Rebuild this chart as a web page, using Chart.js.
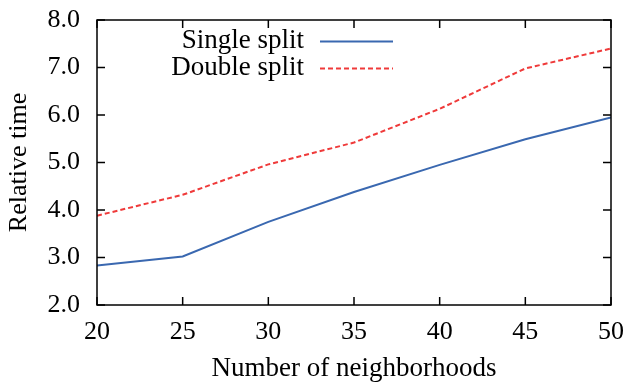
<!DOCTYPE html>
<html>
<head>
<meta charset="utf-8">
<script src="https://cdn.jsdelivr.net/npm/chart.js@4"></script>
<style>
  html, body { margin: 0; padding: 0; background: #fff; }
  #wrap { width: 631px; height: 383px; }
</style>
</head>
<body>
<div id="wrap"><canvas id="chart" width="631" height="383"></canvas></div>
<script>
// Chart data
const neighborhoods = [20, 25, 30, 35, 40, 45, 50];
const singleSplit = [2.83, 3.02, 3.75, 4.38, 4.95, 5.49, 5.95];
const doubleSplit = [3.88, 4.32, 4.96, 5.42, 6.13, 6.98, 7.40];
const seriesLabels = ['Single split', 'Double split'];
const xTicks = [20, 25, 30, 35, 40, 45, 50];
const yTicks = [2, 3, 4, 5, 6, 7, 8];

const FONT = 'Liberation Serif';
const FSIZE = 26;
const BLUE = '#3a68b0';
const RED = '#ef3a3a';

const toPoints = vals => neighborhoods.map((x, i) => ({ x, y: vals[i] }));

// Frame, inward ticks on all sides, and the gnuplot-style key
const framePlugin = {
  id: 'frame',
  afterDatasetsDraw(chart) {
    const { ctx, chartArea: a, scales } = chart;
    ctx.save();
    ctx.strokeStyle = '#000';
    ctx.lineWidth = 1.5;
    ctx.strokeRect(a.left, a.top, a.right - a.left, a.bottom - a.top);

    const len = 8;
    ctx.beginPath();
    xTicks.forEach(v => {
      const px = scales.x.getPixelForValue(v);
      ctx.moveTo(px, a.bottom); ctx.lineTo(px, a.bottom - len);
      ctx.moveTo(px, a.top); ctx.lineTo(px, a.top + len);
    });
    yTicks.forEach(v => {
      const py = scales.y.getPixelForValue(v);
      ctx.moveTo(a.left, py); ctx.lineTo(a.left + len, py);
      ctx.moveTo(a.right, py); ctx.lineTo(a.right - len, py);
    });
    ctx.stroke();

    // key
    ctx.font = `27px "${FONT}"`;
    ctx.textAlign = 'right';
    ctx.textBaseline = 'alphabetic';
    ctx.fillStyle = '#000';
    chart.data.datasets.forEach((ds, i) => {
      const y = 41.5 + i * 27;
      ctx.fillText(ds.label, 304, y + 6.5);
      ctx.strokeStyle = ds.borderColor;
      ctx.lineWidth = ds.borderWidth;
      ctx.setLineDash(ds.borderDash || []);
      ctx.beginPath();
      ctx.moveTo(320, y);
      ctx.lineTo(393, y);
      ctx.stroke();
    });
    ctx.restore();
  }
};

new Chart(document.getElementById('chart'), {
  type: 'line',
  data: {
    datasets: [
      {
        label: seriesLabels[0],
        data: toPoints(singleSplit),
        borderColor: BLUE,
        borderWidth: 2,
        pointRadius: 0,
        tension: 0
      },
      {
        label: seriesLabels[1],
        data: toPoints(doubleSplit),
        borderColor: RED,
        borderWidth: 2,
        borderDash: [5, 3],
        pointRadius: 0,
        tension: 0
      }
    ]
  },
  options: {
    responsive: false,
    animation: false,
    layout: { padding: { top: 20, right: 20, bottom: 0, left: 0 } },
    plugins: {
      legend: { display: false },
      tooltip: { enabled: false }
    },
    scales: {
      x: {
        type: 'linear',
        min: 20,
        max: 50,
        afterBuildTicks: s => { s.ticks = xTicks.map(v => ({ value: v })); },
        afterFit: s => {
          s.height = 78;
          s.paddingLeft = 0; s.paddingRight = 0;
        },
        grid: { display: false, drawTicks: false },
        border: { display: false },
        ticks: {
          color: '#000',
          font: { family: FONT, size: FSIZE },
          padding: 12,
          maxRotation: 0
        },
        title: {
          display: true,
          text: 'Number of neighborhoods',
          color: '#000',
          font: { family: FONT, size: 27 },
          padding: { top: 0, bottom: -2 }
        }
      },
      y: {
        min: 2,
        max: 8,
        afterBuildTicks: s => { s.ticks = yTicks.map(v => ({ value: v })); },
        afterFit: s => {
          s.width = 97;
          s.paddingTop = 0; s.paddingBottom = 0;
        },
        grid: { display: false, drawTicks: false },
        border: { display: false },
        ticks: {
          color: '#000',
          font: { family: FONT, size: FSIZE },
          padding: 17,
          callback: v => Number(v).toFixed(1)
        },
        title: {
          display: true,
          text: 'Relative time',
          color: '#000',
          font: { family: FONT, size: FSIZE },
          padding: { top: 4, bottom: 0 }
        }
      }
    }
  },
  plugins: [framePlugin]
});
</script>
</body>
</html>
